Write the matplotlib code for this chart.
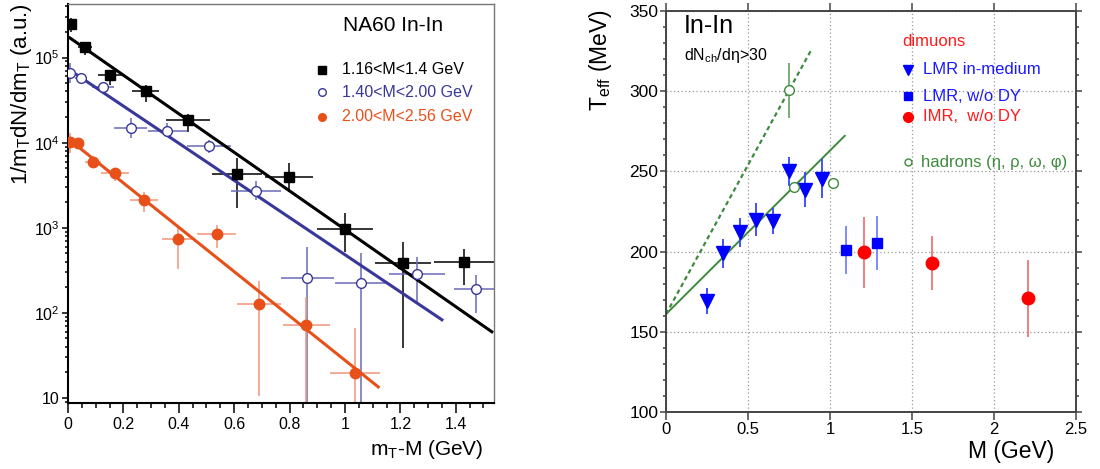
import numpy as np
import matplotlib
matplotlib.use("Agg")
import matplotlib.pyplot as plt
from matplotlib.ticker import FixedLocator, MultipleLocator, LogLocator, FuncFormatter, NullFormatter

plt.rcParams['font.family'] = ['Liberation Sans', 'DejaVu Sans']
plt.rcParams['mathtext.fontset'] = 'custom'
plt.rcParams['mathtext.rm'] = 'Liberation Sans'
plt.rcParams['mathtext.it'] = 'Liberation Sans:italic'

# ---------------- Left panel data: mT spectra ----------------
blk_x = [0.012, 0.061, 0.152, 0.28, 0.434, 0.61, 0.798, 1.0, 1.21, 1.43]
blk_xe = [0.008, 0.025, 0.045, 0.05, 0.08, 0.09, 0.085, 0.1, 0.1, 0.11]
blk_y = [2.45e5, 1.32e5, 6.3e4, 4.1e4, 1.84e4, 4.25e3, 4.0e3, 980, 387, 400]
blk_lo = [2.0e5, 1.07e5, 4.8e4, 3.0e4, 1.33e4, 1.7e3, 2.6e3, 525, 39, 210]
blk_hi = [2.9e5, 1.5e5, 7.1e4, 4.8e4, 2.2e4, 6.6e3, 5.8e3, 1.5e3, 684, 560]

blu_x = [0.007, 0.047, 0.125, 0.227, 0.358, 0.51, 0.68, 0.864, 1.058, 1.26, 1.473]
blu_xe = [0.0, 0.02, 0.04, 0.06, 0.07, 0.08, 0.09, 0.095, 0.095, 0.1, 0.08]
blu_y = [6.6e4, 5.8e4, 4.5e4, 1.48e4, 1.36e4, 9.1e3, 2.7e3, 258, 225, 290, 191]
blu_lo = [5.0e4, 5.1e4, 3.9e4, 1.13e4, 1.17e4, 7.6e3, 2.1e3, 1, 1, 135, 100]
blu_hi = [8.6e4, 6.2e4, 5.0e4, 1.95e4, 1.7e4, 1.07e4, 3.5e3, 600, 500, 450, 280]

org_x = [0.007, 0.037, 0.09, 0.17, 0.274, 0.398, 0.537, 0.69, 0.86, 1.036]
org_xe = [0.0, 0.015, 0.03, 0.05, 0.05, 0.06, 0.07, 0.08, 0.085, 0.09]
org_y = [1.03e4, 1.0e4, 5.9e3, 4.4e3, 2.1e3, 730, 835, 127, 72, 19.6]
org_lo = [7.6e3, 9.0e3, 5.1e3, 3.5e3, 1.55e3, 330, 580, 10.5, 1, 1]
org_hi = [1.3e4, 1.1e4, 6.9e3, 5.1e3, 2.6e3, 1000, 1080, 240, 155, 67]

# exponential fits: (x_start, x_end, y_start, y_end)
fit_blk = (0.007, 1.53, 1.7e5, 60)
fit_blu = (0.007, 1.35, 7.1e4, 83)
fit_org = (0.007, 1.12, 1.07e4, 13.5)

leg_left = ["1.16<M<1.4 GeV", "1.40<M<2.00 GeV", "2.00<M<2.56 GeV"]

# ---------------- Right panel data: Teff vs M ----------------
tri_x = [0.25, 0.35, 0.45, 0.55, 0.65, 0.75, 0.85, 0.95]
tri_y = [169, 199, 212, 220, 219, 250, 238.5, 245.5]
tri_e = [8, 9, 9, 10, 8, 9, 11, 12]

sq_x = [1.097, 1.287]
sq_y = [201, 205.5]
sq_e = [15, 17]

imr_x = [1.207, 1.62, 2.21]
imr_y = [199.5, 193, 171]
imr_e = [22, 17, 24]

had_x = [0.75, 0.78, 1.02]
had_y = [300.5, 240, 242.5]
had_e = [17, 0, 0]

# linear fits: (intercept, slope, x_end)
lin_solid = (161, 102, 1.09)
lin_dotted = (161, 186, 0.89)

BLUE_L = '#38389a'
BLUE_LE = '#6a6ab8'
ORANGE = '#e8501a'
ORANGE_E = '#f2937a'
GREEN = '#3d8a3d'

fig = plt.figure(figsize=(11, 4.69), dpi=100)

# ================= Left panel =================
ax = fig.add_axes([68/1100, 1-403/469, (494-68)/1100, (403-4)/469])
ax.set_yscale('log')
ax.set_xlim(0, 1.538)
ax.set_ylim(8.73, 4.26e5)

def draw_series(x, xe, y, lo, hi, mk, mfc, mc, ec, ms):
    y = np.array(y); lo = np.array(lo); hi = np.array(hi)
    ax.errorbar(x, y, xerr=xe, yerr=[y - lo, hi - y], fmt='none', ecolor=ec,
                elinewidth=1.1, capsize=0, zorder=2)
    ax.plot(x, y, linestyle='none', marker=mk, mfc=mfc, mec=mc, ms=ms, mew=1.0, zorder=3)

def draw_fit(f, color):
    xs = np.linspace(f[0], f[1], 50)
    ys = f[2] * (f[3] / f[2]) ** ((xs - f[0]) / (f[1] - f[0]))
    ax.plot(xs, ys, color=color, lw=2.2, zorder=2.5)

draw_series(blk_x, blk_xe, blk_y, blk_lo, blk_hi, 's', 'black', 'black', 'black', 7.5)
draw_series(blu_x, blu_xe, blu_y, blu_lo, blu_hi, 'o', 'white', BLUE_L, BLUE_LE, 7)
draw_series(org_x, org_xe, org_y, org_lo, org_hi, 'o', ORANGE, ORANGE, ORANGE_E, 7.5)
draw_fit(fit_blk, 'black')
draw_fit(fit_blu, BLUE_L)
draw_fit(fit_org, ORANGE)

ax.yaxis.set_major_locator(FixedLocator([10, 1e2, 1e3, 1e4, 1e5]))
ax.yaxis.set_major_formatter(FuncFormatter(
    lambda v, p: '10' if abs(v - 10) < 1e-6 else r'10$^{%d}$' % round(np.log10(v))))
ax.yaxis.set_minor_locator(LogLocator(base=10, subs=np.arange(2, 10)))
ax.yaxis.set_minor_formatter(NullFormatter())
ax.xaxis.set_major_locator(MultipleLocator(0.2))
ax.xaxis.set_minor_locator(MultipleLocator(0.05))
ax.xaxis.set_major_formatter(FuncFormatter(lambda v, p: '0' if abs(v) < 1e-9 else ('%g' % round(v, 2))))
ax.tick_params(axis='both', which='both', direction='out', labelsize=11.5, width=1.1)
ax.tick_params(axis='x', which='major', length=7, pad=3)
ax.tick_params(axis='x', which='minor', length=3.5)
ax.tick_params(axis='y', which='major', length=4, pad=2)
ax.tick_params(axis='y', which='minor', length=2.2)
for s in ['left', 'bottom']:
    ax.spines[s].set_linewidth(1.5)
    ax.spines[s].set_color('black')
for s in ['top', 'right']:
    ax.spines[s].set_linewidth(1.0)
    ax.spines[s].set_color('#777777')

ax.text(0.646, 0.947, 'NA60 In-In', transform=ax.transAxes, fontsize=15, va='center', ha='left')
leg_rows = [0.835, 0.779, 0.717]
leg_mk = [('s', 'black', 'black'), ('o', 'white', BLUE_L), ('o', ORANGE, ORANGE)]
leg_col = ['black', BLUE_L, ORANGE]
for yy, lab, (mk, fc, ec), tc in zip(leg_rows, leg_left, leg_mk, leg_col):
    ax.plot([0.596], [yy], marker=mk, mfc=fc, mec=ec, ms=5.5, transform=ax.transAxes, linestyle='none')
    ax.text(0.643, yy, lab, transform=ax.transAxes, fontsize=11.5, color=tc, va='center', ha='left')

fig.text(22/1100, 1-3/469, r'1/m$_{\rm T}$dN/dm$_{\rm T}$ (a.u.)', rotation=90,
         ha='center', va='top', fontsize=16)
fig.text(484/1100, 1-449/469, r'm$_{\rm T}$-M (GeV)', ha='right', va='center', fontsize=15)

# ================= Right panel =================
bx = fig.add_axes([666/1100, 1-412/469, (1076-666)/1100, (412-11)/469])
bx.set_xlim(0, 2.5)
bx.set_ylim(100, 350)
bx.grid(True, which='major', linestyle=(0, (1, 2)), color='#999999', lw=0.9)
bx.set_axisbelow(True)

xs = np.linspace(0, lin_solid[2], 20)
bx.plot(xs, lin_solid[0] + lin_solid[1] * xs, color=GREEN, lw=1.4)
xs = np.linspace(0, lin_dotted[2], 20)
bx.plot(xs, lin_dotted[0] + lin_dotted[1] * xs, color=GREEN, lw=1.6, linestyle=(0, (2, 1.5)))

bx.errorbar(tri_x, tri_y, yerr=tri_e, fmt='none', ecolor='#3344ff', elinewidth=1.3, capsize=0)
bx.plot(tri_x, tri_y, 'v', color='#0000ff', ms=9.5, linestyle='none')
bx.errorbar(sq_x, sq_y, yerr=sq_e, fmt='none', ecolor='#6677ff', elinewidth=1.2, capsize=0)
bx.plot(sq_x, sq_y, 's', color='#0000ff', ms=7.5, linestyle='none')
bx.errorbar(imr_x, imr_y, yerr=imr_e, fmt='none', ecolor='#f06a6a', elinewidth=1.2, capsize=0)
bx.plot(imr_x, imr_y, 'o', color='#ff0000', ms=9, linestyle='none')
bx.errorbar(had_x, had_y, yerr=had_e, fmt='none', ecolor='#6aa86a', elinewidth=1.3, capsize=0)
bx.plot(had_x, had_y, 'o', mfc='white', mec=GREEN, ms=7, mew=1.0, linestyle='none')

bx.xaxis.set_major_locator(MultipleLocator(0.5))
bx.yaxis.set_major_locator(MultipleLocator(50))
bx.yaxis.set_minor_locator(MultipleLocator(10))
bx.xaxis.set_major_formatter(FuncFormatter(lambda v, p: '%g' % v))
bx.tick_params(axis='both', which='both', direction='out', labelsize=12.5, width=1.1,
               right=True, top=True, colors='#444444', labelcolor='black')
bx.tick_params(axis='x', which='major', length=5.5, pad=2, labelsize=12)
bx.tick_params(axis='y', which='major', length=4.5, pad=1)
bx.tick_params(axis='y', which='minor', length=2.5)
for s in bx.spines.values():
    s.set_linewidth(1.4)
    s.set_color('#444444')

bx.text(0.044, 0.963, 'In-In', transform=bx.transAxes, fontsize=18, va='center', ha='left')
bx.text(0.044, 0.89, r'dN$_{\rm ch}$/dη>30', transform=bx.transAxes, fontsize=11.5, va='center', ha='left')
bx.text(0.576, 0.923, 'dimuons', transform=bx.transAxes, fontsize=12, color='#ff1a1a', va='center', ha='left')
rleg = [(0.853, 'v', '#0000ff', '#0000ff', 'LMR in-medium', '#1a1aff', 7, 0.627),
        (0.788, 's', '#0000ff', '#0000ff', 'LMR, w/o DY', '#1a1aff', 6, 0.627),
        (0.736, 'o', '#ff0000', '#ff0000', 'IMR,  w/o DY', '#ff1a1a', 7, 0.627),
        (0.623, 'o', 'white', GREEN, 'hadrons (η, ρ, ω, φ)', GREEN, 5, 0.622)]
for yy, mk, fc, ec, lab, tc, ms, tx in rleg:
    bx.plot([0.590], [yy], marker=mk, mfc=fc, mec=ec, ms=ms, transform=bx.transAxes, linestyle='none')
    bx.text(tx, yy, lab, transform=bx.transAxes, fontsize=12, color=tc, va='center', ha='left')

fig.text(601/1100, 1-9/469, r'T$_{\rm eff}$ (MeV)', rotation=90, ha='center', va='top', fontsize=16.5)
fig.text(1054/1100, 1-451/469, 'M (GeV)', ha='right', va='center', fontsize=16.5)

fig.savefig('out.png', dpi=100)
